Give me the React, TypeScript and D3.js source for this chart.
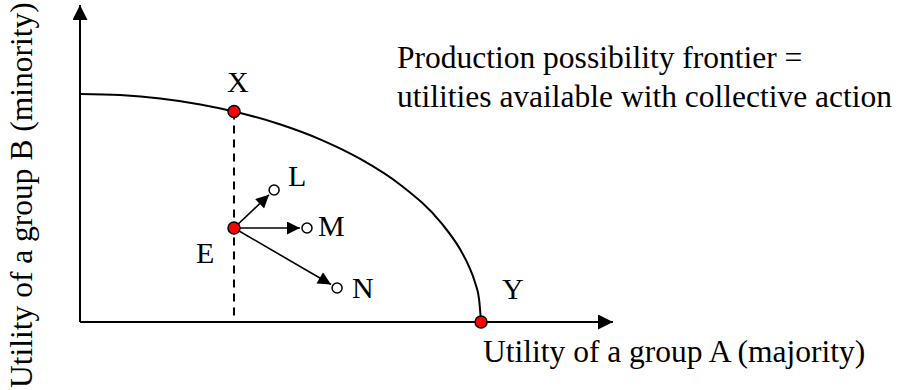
import React from "react";
import * as d3 from "d3";

// Frontier (utility of A, utility of B)
const frontierA = [0, 0.1, 0.2, 0.3, 0.384, 0.5, 0.6, 0.7, 0.8, 0.9, 0.95, 0.97, 0.985, 0.995, 1.0];
const frontierB = [1.0, 0.995, 0.98, 0.954, 0.923, 0.866, 0.8, 0.714, 0.6, 0.436, 0.312, 0.243, 0.173, 0.1, 0];

// Red points
const redNames = ["X", "E", "Y"];
const redA = [0.384, 0.384, 1.0];
const redB = [0.923, 0.412, 0];

// Open points reachable from E
const openNames = ["L", "M", "N"];
const openA = [0.484, 0.566, 0.641];
const openB = [0.579, 0.412, 0.149];

const axisMaxA = 1.329;
const axisMaxB = 1.39;

const W = 898;
const H = 390;
const FONT = "Liberation Serif";

export default function App() {
  const x = d3.scaleLinear().domain([0, axisMaxA]).range([80, 613]);
  const y = d3.scaleLinear().domain([0, axisMaxB]).range([322, 5]);

  const frontier = frontierA.map((a, i) => [a, frontierB[i]] as [number, number]);
  const line = d3
    .line<[number, number]>()
    .x((d) => x(d[0]))
    .y((d) => y(d[1]))
    .curve(d3.curveMonotoneX);

  const ex = x(redA[1]);
  const ey = y(redB[1]);

  const labelOffsets: Record<string, [number, number]> = {
    X: [-7, -20],
    E: [-38, 35],
    Y: [21, -23],
    L: [14, -4],
    M: [11, 8],
    N: [15, 10],
  };

  return (
    <svg width={W} height={H} style={{ position: "absolute", left: 0, top: 0 }}>
      <defs>
        <marker id="ah" viewBox="0 0 10 10" refX="10" refY="5" markerWidth="16" markerHeight="13" markerUnits="userSpaceOnUse" orient="auto">
          <path d="M0,0 L10,5 L0,10 Z" fill="#000" />
        </marker>
        <marker id="axh" viewBox="0 0 10 10" refX="10" refY="5" markerWidth="16" markerHeight="15" markerUnits="userSpaceOnUse" orient="auto">
          <path d="M0,0 L10,5 L0,10 Z" fill="#000" />
        </marker>
      </defs>
      <rect width={W} height={H} fill="#fff" />
      {/* axes */}
      <line x1={x(0)} y1={y(0)} x2={x(axisMaxA)} y2={y(0)} stroke="#000" strokeWidth={2} markerEnd="url(#axh)" />
      <line x1={x(0)} y1={y(0)} x2={x(0)} y2={y(axisMaxB)} stroke="#000" strokeWidth={2} markerEnd="url(#axh)" />
      {/* frontier */}
      <path d={line(frontier) || ""} fill="none" stroke="#000" strokeWidth={2} />
      {/* dashed line from X down */}
      <line x1={x(redA[0])} y1={y(redB[0])} x2={x(redA[0])} y2={y(0)} stroke="#000" strokeWidth={2} strokeDasharray="8,6" />
      {/* arrows from E */}
      {openNames.map((n, i) => {
        const tx = x(openA[i]);
        const ty = y(openB[i]);
        const dx = tx - ex;
        const dy = ty - ey;
        const len = Math.sqrt(dx * dx + dy * dy);
        const k = (len - 7) / len;
        return (
          <line key={"a" + n} x1={ex} y1={ey} x2={ex + dx * k} y2={ey + dy * k} stroke="#000" strokeWidth={1.6} markerEnd="url(#ah)" />
        );
      })}
      {openNames.map((n, i) => (
        <circle key={"o" + n} cx={x(openA[i])} cy={y(openB[i])} r={5} fill="#fff" stroke="#000" strokeWidth={1.5} />
      ))}
      {redNames.map((n, i) => (
        <circle key={"r" + n} cx={x(redA[i])} cy={y(redB[i])} r={6} fill="#ff0000" stroke="#000" strokeWidth={1.5} />
      ))}
      {/* point labels */}
      {redNames.map((n, i) => (
        <text key={"rl" + n} x={x(redA[i]) + labelOffsets[n][0]} y={y(redB[i]) + labelOffsets[n][1]} style={{ fontFamily: FONT }} fontSize={30}>
          {n}
        </text>
      ))}
      {openNames.map((n, i) => (
        <text key={"ol" + n} x={x(openA[i]) + labelOffsets[n][0]} y={y(openB[i]) + labelOffsets[n][1]} style={{ fontFamily: FONT }} fontSize={30}>
          {n}
        </text>
      ))}
      {/* annotation */}
      <text x={397} y={68} style={{ fontFamily: FONT }} fontSize={31.5}>Production possibility frontier =</text>
      <text x={397} y={107} style={{ fontFamily: FONT }} fontSize={31.5}>utilities available with collective action</text>
      {/* axis titles */}
      <text x={483} y={362} style={{ fontFamily: FONT }} fontSize={31.5}>Utility of a group A (majority)</text>
      <text transform="translate(32,388) rotate(-90)" style={{ fontFamily: FONT }} fontSize={31.5}>Utility of a group B (minority)</text>
    </svg>
  );
}
